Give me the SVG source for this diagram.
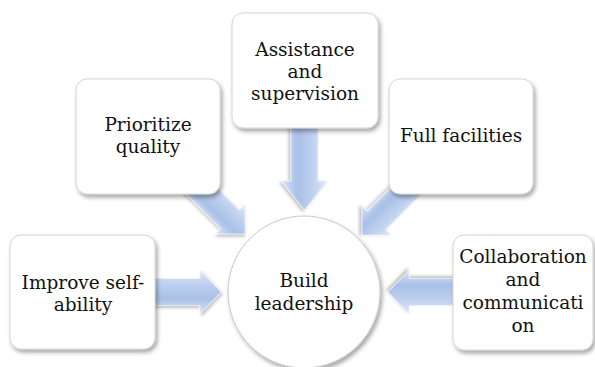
<svg xmlns="http://www.w3.org/2000/svg" width="595" height="367" viewBox="0 0 595 367">
  <defs>
    <linearGradient id="arrowFill" x1="0" y1="0" x2="0" y2="1">
      <stop offset="0" stop-color="#e3ebf8"/>
      <stop offset="0.3" stop-color="#c0d2ef"/>
      <stop offset="0.65" stop-color="#a9c0e7"/>
      <stop offset="1" stop-color="#d9e4f6"/>
    </linearGradient>
    <filter id="boxShadow" x="-10%" y="-10%" width="125%" height="125%">
      <feDropShadow dx="2" dy="3" stdDeviation="2" flood-color="#000" flood-opacity="0.35"/>
    </filter>
    <filter id="arrowShadow" x="-20%" y="-30%" width="140%" height="160%">
      <feDropShadow dx="1.5" dy="2" stdDeviation="1.5" flood-color="#000" flood-opacity="0.25"/>
    </filter>
  </defs>
  <style>
    .box { fill: #ffffff; stroke: #d4d4d4; stroke-width: 1; filter: url(#boxShadow); }
    .hub { fill: #ffffff; stroke: #c8c8c8; stroke-width: 1; filter: url(#boxShadow); }
    .arrow { fill: url(#arrowFill); stroke: #eef3fb; stroke-width: 0.8; filter: url(#arrowShadow); }
    .label { font-size: 18.5px; fill: #111111; text-anchor: middle; }
  </style>

  <rect width="595" height="367" fill="#ffffff"/>

  <!-- block arrows pointing into the hub -->
  <g id="connectors">
    <!-- Improve self-ability -> Build leadership -->
    <path class="arrow" transform="translate(150,292)" d="M0,-13.5 H50 V-22 L71,0 L50,22 V13.5 H0 Z"/>
    <!-- Collaboration and communication -> Build leadership -->
    <path class="arrow" transform="translate(458,292) rotate(180)" d="M0,-13.5 H49 V-22 L70,0 L49,22 V13.5 H0 Z"/>
    <!-- Assistance and supervision -> Build leadership -->
    <path class="arrow" transform="translate(304.5,120) rotate(90)" d="M0,-13.5 H61 V-23 L90,0 L61,23 V13.5 H0 Z"/>
    <!-- Prioritize quality -> Build leadership -->
    <path class="arrow" transform="translate(190,179) rotate(45)" d="M0,-13 H57 V-20.5 L77.8,0 L57,20.5 V13 H0 Z"/>
    <!-- Full facilities -> Build leadership -->
    <path class="arrow" transform="translate(420,177) rotate(135)" d="M0,-13 H61.5 V-20.5 L82,0 L61.5,20.5 V13 H0 Z"/>
  </g>

  <g font-family="'DejaVu Serif', 'Liberation Serif', serif">
    <g id="improve-self-ability">
      <rect class="box" x="10" y="235" width="145" height="114" rx="11"/>
      <text class="label" x="83" y="289">Improve self-</text>
      <text class="label" x="83" y="311">ability</text>
    </g>

    <g id="prioritize-quality">
      <rect class="box" x="76" y="79" width="144" height="115" rx="11"/>
      <text class="label" x="148" y="131">Prioritize</text>
      <text class="label" x="148" y="153">quality</text>
    </g>

    <g id="assistance-supervision">
      <rect class="box" x="232" y="13" width="146" height="115" rx="11"/>
      <text class="label" x="305" y="56">Assistance</text>
      <text class="label" x="305" y="78">and</text>
      <text class="label" x="305" y="100">supervision</text>
    </g>

    <g id="full-facilities">
      <rect class="box" x="389" y="79" width="144" height="115" rx="11"/>
      <text class="label" x="461" y="142">Full facilities</text>
    </g>

    <g id="collaboration-communication">
      <rect class="box" x="453" y="235" width="140" height="115" rx="11"/>
      <text class="label" x="523" y="263">Collaboration</text>
      <text class="label" x="523" y="286">and</text>
      <text class="label" x="523" y="309">communicati</text>
      <text class="label" x="523" y="332">on</text>
    </g>

    <g id="build-leadership">
      <circle class="hub" cx="304" cy="292" r="76"/>
      <text class="label" x="304" y="287">Build</text>
      <text class="label" x="304" y="310">leadership</text>
    </g>
  </g>
</svg>
